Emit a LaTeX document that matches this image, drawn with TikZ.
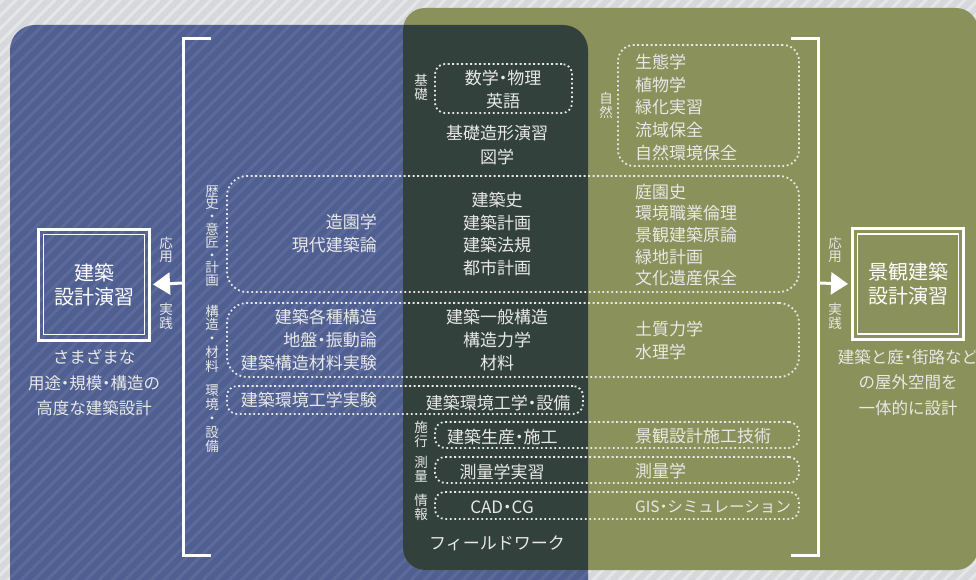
\documentclass[tikz,border=0pt]{standalone}
\usepackage{fontspec}
\setmainfont{Noto Sans CJK JP}
\usetikzlibrary{arrows.meta}
\usetikzlibrary{positioning}
\definecolor{bggray}{HTML}{D7D8DB}
\definecolor{bgstripe}{HTML}{E5E6E8}
\definecolor{kblue}{HTML}{4F5F92}
\definecolor{kolive}{HTML}{8B915B}
\definecolor{kdark}{HTML}{33413D}
\definecolor{ktext}{HTML}{E8E8E6}
\newcommand{\nd}{\makebox[0.5em]{・}}
\tikzset{
	>={Triangle[length=17pt,width=22pt]},
	stripe/.style={line width=3pt, draw=bgstripe},
	softstripe/.style={line width=3pt, draw=white, opacity=0.07},
	bracket/.style={draw=white, line width=3pt},
	link/.style={draw=white, line width=3pt, ->},
	dotbox/.style={
		draw=ktext, 
		line width=1.8pt, 
		dash pattern=on 1.8pt off 2.7pt, 
		rounded corners=10pt, 
		inner sep=0pt},
	course/.style={font=\fontsize{17}{22.7}\selectfont, text=ktext, inner sep=0pt},
	vlabel/.style={font=\fontsize{13.5}{13.8}\selectfont, text=ktext, inner sep=0pt, align=center},
	outerbox/.style={
		draw=white, line width=3pt, 
		minimum width=111pt, 
		minimum height=111pt, 
		inner sep=0pt},
	innerbox/.style={
		draw=white, line width=1.2pt, 
		minimum width=101pt, 
		minimum height=100pt, 
		inner sep=0pt, 
		font=\fontsize{20}{24}\selectfont, 
		text=white, 
		align=center},
	subnote/.style={font=\fontsize{16.5}{25.5}\selectfont, text=ktext, inner sep=0pt, align=center},
}
\begin{document}
\begin{tikzpicture}
		[x=1pt, y=-1pt]
		\useasboundingbox (0,0) rectangle (976,580);
		% background and the two fields
		\begin{scope}
			\clip (0,0) rectangle (976,580);
			\fill[bggray] (0,0) rectangle (976,580);
			\foreach \s in {-600,-587,...,990} \draw[stripe] (\s,590) -- (\s+600,-10);
			\fill[kblue, rounded corners=25pt] (10,25) rectangle (588,605);
			\begin{scope}
				\clip[rounded corners=25pt] (10,25) rectangle (588,605);
				\foreach \s in {-600,-587,...,600} \draw[softstripe] (\s,590) -- (\s+600,-10);
			\end{scope}
			\fill[kolive, rounded corners=22pt] (403,8) rectangle (978,570);
			\begin{scope}
				\clip[rounded corners=25pt] (10,25) rectangle (588,605);
				\fill[kdark, rounded corners=22pt] (403,8) rectangle (978,570);
			\end{scope}
		\end{scope}
		
		% design studios
		\node[outerbox] (kenchiku) at (94,284.5) {};
		\node[innerbox] (kenchikuin) at (kenchiku) {建築\\設計演習};
		\node[outerbox] (keikan) at (908,284) {};
		\node[innerbox] (keikanin) at (keikan) {景観建築\\設計演習};
		\node[subnote, below=8pt of kenchiku] (lnote) {さまざまな\\用途\nd 規模\nd 構造の\\高度な建築設計};
		\node[subnote, below=8pt of keikan] (rnote) {建築と庭\nd 街路など\\の屋外空間を\\一体的に設計};
		
		% brackets and arrows
		\coordinate (lmid) at (183,283);
		\coordinate (rmid) at (818,283);
		\draw[bracket] (211,39) -- (183,39) -- (183,555) -- (211,555);
		\draw[bracket] (791,39) -- (818,39) -- (818,555) -- (791,555);
		\draw[link, shorten >=2pt] (lmid) -- (kenchiku.east);
		\draw[link, shorten >=3pt] (rmid) -- (keikan.west);
		\node[vlabel] (louyou) at (166,250) {応\\用};
		\node[vlabel] (ljissen) at (166,316.5) {実\\践};
		\node[vlabel] (rouyou) at (835,250) {応\\用};
		\node[vlabel] (rjissen) at (835,316.5) {実\\践};
		
		% dotted groups
		\node[dotbox, minimum width=137pt, minimum height=49pt] (kisobox) at (503.5,88.5) {};
		\node[dotbox, rounded corners=16pt, minimum width=181pt, minimum height=121pt] (shizenbox) at (708.5,105.5) {};
		\node[dotbox, rounded corners=20pt, minimum width=572pt, minimum height=116pt] (rekishibox) at (513,234) {};
		\node[dotbox, rounded corners=20pt, minimum width=572pt, minimum height=74pt] (kouzoubox) at (513,340) {};
		\node[dotbox, minimum width=356pt, minimum height=28pt] (kankyoubox) at (405,400) {};
		\node[dotbox, minimum width=364pt, minimum height=26pt] (sekoubox) at (617,435) {};
		\node[dotbox, minimum width=364pt, minimum height=26pt] (sokuryoubox) at (617,470) {};
		\node[dotbox, minimum width=364pt, minimum height=27pt] (jouhoubox) at (617,505.5) {};
		
		% group labels
		\node[vlabel] (kiso) at (421,87.5) {基\\礎};
		\node[vlabel] (shizen) at (606,105.5) {自\\然};
		\node[vlabel, font=\fontsize{13.5}{12.8}\selectfont] (rekishi) at (212,236) {歴\\史\\・\\意\\匠\\・\\計\\画};
		\node[vlabel] (kouzou) at (212,338.5) {構\\造\\・\\材\\料};
		\node[vlabel] (kankyou) at (212,418.5) {環\\境\\・\\設\\備};
		\node[vlabel] (sekou) at (421,434) {施\\行};
		\node[vlabel] (sokuryou) at (421,469) {測\\量};
		\node[vlabel] (jouhou) at (421,507) {情\\報};
		
		% courses
		\node[course, align=center] (suugaku) at (503,89.5) {数学\nd 物理\\英語};
		\node[course] (zoukei) at (497,133) {基礎造形演習};
		\node[course] (zugaku) at (497,157) {図学};
		\node[course, align=left, anchor=west] (seitai) at (635,107.5) {生態学\\植物学\\緑化実習\\流域保全\\自然環境保全};
		\node[course, align=right, anchor=east] (zouen) at (377,233.5) {造園学\\現代建築論};
		\node[course, align=center] (kenchikushi) at (497,234) {建築史\\建築計画\\建築法規\\都市計画};
		\node[course, align=left, anchor=west, font=\fontsize{17}{21.6}\selectfont] (teien) at (635,235) {庭園史\\環境職業倫理\\景観建築原論\\緑地計画\\文化遺産保全};
		\node[course, align=right, anchor=east] (kakushu) at (377,340) {建築各種構造\\地盤\nd 振動論\\建築構造材料実験};
		\node[course, align=center] (ippan) at (497,340) {建築一般構造\\構造力学\\材料};
		\node[course, align=left, anchor=west] (doshitsu) at (635,340.5) {土質力学\\水理学};
		\node[course, anchor=east] (kankyoujikken) at (377,400) {建築環境工学実験};
		\node[course] (kankyoukougaku) at (498,403) {建築環境工学\nd 設備};
		\node[course, anchor=west] (seisan) at (447,437) {建築生産\nd 施工};
		\node[course, anchor=west] (sekougijutsu) at (635,436) {景観設計施工技術};
		\node[course] (sokuryoujisshuu) at (502,472) {測量学実習};
		\node[course, anchor=west] (sokuryougaku) at (635,471) {測量学};
		\node[course] (cad) at (502,507) {CAD\nd CG};
		\node[course, anchor=west, font=\fontsize{15.5}{20}\selectfont] (gis) at (635,507) {GIS\nd シミュレーション};
		\node[course] (field) at (497,543) {フィールドワーク};
\end{tikzpicture}
\end{document}
